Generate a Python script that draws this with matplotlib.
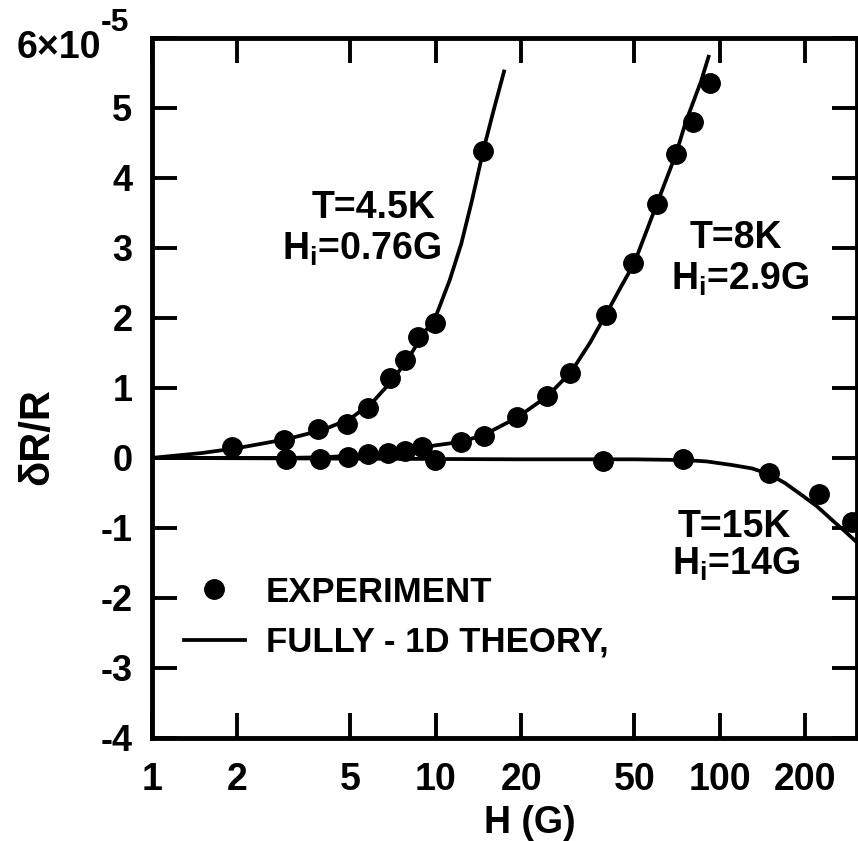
import matplotlib
matplotlib.use("Agg")
import matplotlib.pyplot as plt
from matplotlib.ticker import NullLocator

# measured points (dR/R in units of 1e-5)
h45_pts = [1.92, 2.91, 3.84, 4.87, 5.79, 6.89, 7.80, 8.69, 9.92, 14.7]
r45_pts = [0.15, 0.26, 0.41, 0.48, 0.72, 1.14, 1.40, 1.73, 1.93, 4.39]

h8_pts = [2.97, 3.91, 4.89, 5.76, 6.78, 7.78, 8.94, 12.3, 14.8, 19.4, 24.7,
          29.8, 39.9, 49.6, 60.3, 70.2, 80.3, 92.7]
r8_pts = [-0.02, -0.01, 0.01, 0.05, 0.07, 0.10, 0.15, 0.23, 0.32, 0.58, 0.88,
          1.22, 2.04, 2.79, 3.63, 4.34, 4.80, 5.35]

h15_pts = [9.9, 38.9, 74.0, 149, 223, 293]
r15_pts = [-0.03, -0.05, -0.01, -0.22, -0.51, -0.91]

# theory curves
h45_fit = [1, 1.5, 2, 3, 4, 5, 6, 7, 8, 9, 10, 11.2, 12.3, 13.4, 14.7, 16, 17.4]
r45_fit = [0, 0.07, 0.14, 0.27, 0.40, 0.56, 0.80, 1.10, 1.42, 1.76, 2.02,
           2.54, 3.06, 3.67, 4.39, 4.97, 5.52]

h8_fit = [1, 3, 4, 5, 6, 7, 8, 9, 10, 12.3, 14.8, 19.4, 24.7, 30, 35, 40, 45,
          50, 60, 70, 76, 86, 91.4]
r8_fit = [0, 0, 0.01, 0.03, 0.05, 0.08, 0.12, 0.15, 0.18, 0.23, 0.33, 0.58,
          0.88, 1.23, 1.65, 2.07, 2.45, 2.78, 3.62, 4.33, 4.80, 5.38, 5.73]

h15_fit = [1, 5, 20, 50, 75, 90, 110, 130, 149, 170, 193, 220, 251, 280, 307]
r15_fit = [0, -0.01, -0.02, -0.02, -0.03, -0.05, -0.10, -0.15, -0.23, -0.36,
           -0.52, -0.69, -0.90, -1.07, -1.22]

x_ticks = [1, 2, 5, 10, 20, 50, 100, 200]
x_labels = ["1", "2", "5", "10", "20", "50", "100", "200"]
y_ticks = [-4, -3, -2, -1, 0, 1, 2, 3, 4, 5, 6]
y_labels = ["-4", "-3", "-2", "-1", "0", "1", "2", "3", "4", "5", ""]

plt.rcParams['font.family'] = ['Liberation Sans', 'DejaVu Sans']
plt.rcParams['font.weight'] = 'bold'
plt.rcParams['axes.labelweight'] = 'bold'
plt.rcParams['mathtext.fontset'] = 'custom'
plt.rcParams['mathtext.rm'] = 'Liberation Sans:bold'
plt.rcParams['mathtext.it'] = 'Liberation Sans:bold'

fig = plt.figure(figsize=(8.58, 8.41), dpi=100)
ax = fig.add_axes([0.177, 0.1225, 0.822, 0.8325])
ax.set_xscale('log')

line45, = ax.plot(h45_fit, r45_fit, color='k', lw=2.7)
ax.plot(h8_fit, r8_fit, color='k', lw=2.7)
ax.plot(h15_fit, r15_fit, color='k', lw=2.7)

dots, = ax.plot(h45_pts, r45_pts, 'ko', ms=14, ls='none')
ax.plot(h8_pts, r8_pts, 'ko', ms=14, ls='none')
ax.plot(h15_pts, r15_pts, 'ko', ms=14, ls='none')

ax.set_xlim(1, 305)
ax.set_ylim(-4, 6)
ax.set_xticks(x_ticks)
ax.set_xticklabels(x_labels)
ax.xaxis.set_minor_locator(NullLocator())
ax.set_yticks(y_ticks)
ax.set_yticklabels(y_labels)
ax.tick_params(axis='both', direction='in', length=18, width=2.8,
               top=True, right=True)
ax.tick_params(axis='x', labelsize=27, pad=17)
ax.tick_params(axis='y', labelsize=26, pad=14)
for s in ax.spines.values():
    s.set_linewidth(3.5)

ax.set_xlabel('H (G)', fontsize=27, va='center')
ax.xaxis.set_label_coords(0.536, -0.122)
ax.set_ylabel('δR/R', fontsize=30, va='center')
ax.yaxis.set_label_coords(-0.163, 0.43)

fig.text(101 / 858, 1 - 48 / 841, '6×10', ha='right', va='center', fontsize=27)
fig.text(101 / 858, 1 - 23 / 841, '-5', ha='left', va='center', fontsize=23)

labels = [('T=4.5K', 0.315, 0.743), (r'H$_{i}$=0.76G', 0.297, 0.683),
          ('T=8K', 0.828, 0.700), (r'H$_{i}$=2.9G', 0.835, 0.640),
          ('T=15K', 0.826, 0.287), (r'H$_{i}$=14G', 0.828, 0.233)]
for txt, fx, fy in labels:
    ax.text(fx, fy, txt, transform=ax.transAxes, ha='center', va='baseline',
            fontsize=27)

ax.legend([dots, line45], ['EXPERIMENT', 'FULLY - 1D THEORY,'],
          loc='upper left', bbox_to_anchor=(0.045, 0.232), frameon=False,
          fontsize=25, handlelength=1.77, handletextpad=0.6,
          labelspacing=0.5, borderpad=0, borderaxespad=0)

fig.savefig('out.png', dpi=100)
